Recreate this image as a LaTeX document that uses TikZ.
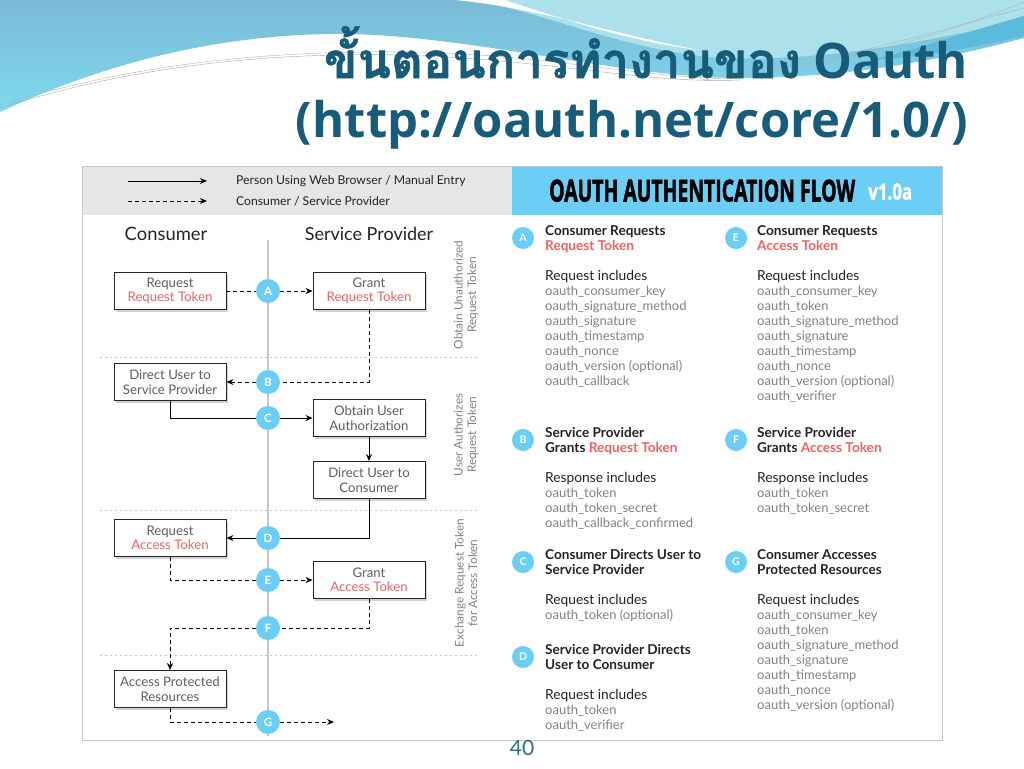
\documentclass[tikz,border=0pt]{standalone}
\usepackage{fontspec}
\usepackage{xcolor}
\usepackage{graphicx}
\usetikzlibrary{shapes,arrows.meta,positioning,calc,shadows}
\setmainfont{Lato}
\newfontfamily\thaifont[Script=Thai, BoldFeatures={FakeBold=1.2}]{Loma}
\newfontfamily\headfont{Open Sans}
\newfontfamily\bannerfont[BoldFeatures={FakeBold=2}]{Open Sans}

\definecolor{titleblue}{RGB}{24,92,122}
\definecolor{stepblue}{RGB}{108,206,245}
\definecolor{tokenred}{RGB}{240,98,98}
\definecolor{legendgray}{RGB}{230,230,230}
\definecolor{panelgray}{RGB}{200,200,200}
\definecolor{itemgray}{RGB}{130,130,130}
\definecolor{boxgray}{RGB}{95,95,95}
\definecolor{darktext}{RGB}{35,35,35}
\definecolor{bgtop}{RGB}{122,186,214}
\definecolor{bgbottom}{RGB}{126,218,236}
\definecolor{bglight}{RGB}{172,224,234}
\definecolor{bgband}{RGB}{92,186,218}
\definecolor{pagenum}{RGB}{40,112,130}

\newcommand{\infohead}[1]{\textcolor{darktext}{\bfseries\fontsize{13.6}{15}\selectfont #1}}
\newcommand{\infored}[1]{\textcolor{tokenred}{\bfseries\fontsize{13.6}{15}\selectfont #1}}
\newcommand{\infosub}[1]{\textcolor{darktext}{\fontsize{13.8}{15}\selectfont #1}}

\begin{document}
\begin{tikzpicture}[
    x=1pt, y=-1pt,
    stepbox/.style={rectangle, draw=black!85, fill=white, line width=0.9pt, align=center, minimum height=37pt, minimum width=112pt, inner sep=1pt, text=boxgray, font=\fontsize{13.2}{14.5}\selectfont, drop shadow={shadow xshift=1.5pt, shadow yshift=-2pt, opacity=0.35}},
    stepdot/.style={circle, fill=stepblue, text=white, inner sep=0pt, minimum size=24pt, font=\fontsize{11.5}{11.5}\selectfont\bfseries},
    infodot/.style={circle, fill=stepblue, text=white, inner sep=0pt, minimum size=22pt, font=\fontsize{10.5}{10.5}\selectfont\bfseries},
    infotext/.style={anchor=north west, inner sep=0pt, align=left, text=itemgray, font=\fontsize{13}{15}\selectfont},
    phase/.style={rotate=90, align=center, text=itemgray, font=\fontsize{11.8}{13.5}\selectfont},
    userflow/.style={draw=black, line width=1pt},
    appflow/.style={draw=black, line width=1pt, dash pattern=on 4pt off 3pt},
    tip/.style={-{Stealth[length=7pt, width=6pt]}}
]
    \useasboundingbox (0,0) rectangle (1024,768);

    % slide background
    \fill[white] (0,0) rectangle (1024,768);
    \shade[top color=bgtop, bottom color=bgbottom] (0,0) -- (1024,0) -- (1024,38)
        .. controls (960,55) and (860,78) .. (740,78)
        .. controls (620,78) and (460,32) .. (330,34)
        .. controls (200,36) and (90,70) .. (0,112) -- cycle;
    \fill[bglight] (470,0) -- (1024,0) -- (1024,20) .. controls (930,40) and (830,62) .. (720,58)
        .. controls (620,50) and (540,10) .. (470,0);
    \fill[white] (455,0) .. controls (540,8) and (620,36) .. (700,50)
        .. controls (630,42) and (560,18) .. (505,0) -- cycle;
    \fill[bgband] (1024,16) .. controls (960,34) and (920,48) .. (872,60)
        .. controls (930,56) and (980,46) .. (1024,36) -- cycle;
    \draw[gray!70, line width=0.4pt] (0,108) .. controls (120,70) and (250,52) .. (400,55) .. controls (560,60) and (640,84) .. (740,80);
    \draw[gray!60, line width=0.4pt] (0,105) .. controls (130,66) and (250,50) .. (420,52) .. controls (560,56) and (650,80) .. (740,78);
    \draw[gray!60, line width=0.4pt] (700,80) .. controls (820,70) and (930,40) .. (1024,2);
    \draw[gray!60, line width=0.4pt] (720,76) .. controls (830,64) and (940,30) .. (1024,8);

    % title
    \node[anchor=base east, inner sep=0pt, text=titleblue, font=\headfont\bfseries\fontsize{49}{58}\selectfont] (title1) at (968,78) {{\thaifont\bfseries ขั้นตอนการทำงานของ} Oauth};
    \node[anchor=base east, inner sep=0pt, text=titleblue, font=\headfont\bfseries\fontsize{49}{58}\selectfont] (title2) at (968,137) {(http://oauth.net/core/1.0/)};

    % panel
    \fill[white] (82,166) rectangle (942,740);
    \fill[legendgray] (82,166) rectangle (512,215);
    \fill[stepblue] (512,166) rectangle (942,215);
    \draw[panelgray, line width=1pt] (82,166) rectangle (942,740);
    \node[anchor=south west, inner sep=0pt] (flowtitle) at (549,202) {\resizebox{306pt}{22pt}{\bannerfont\bfseries OAUTH AUTHENTICATION FLOW}};
    \node[anchor=south west, inner sep=0pt, text=white] (version) at (868,200) {\resizebox{44pt}{16pt}{\bannerfont\bfseries v1.0a}};

    % legend
    \coordinate (legA1) at (128,181);
    \coordinate (legA2) at (207,181);
    \coordinate (legB1) at (128,201);
    \coordinate (legB2) at (207,201);
    \draw[userflow, tip] (legA1) -- (legA2);
    \draw[appflow, tip] (legB1) -- (legB2);
    \node[anchor=west, inner sep=0pt, text=darktext, font=\fontsize{12.2}{14}\selectfont] (legtext1) at (236,181) {Person Using Web Browser / Manual Entry};
    \node[anchor=west, inner sep=0pt, text=darktext, font=\fontsize{12.2}{14}\selectfont] (legtext2) at (236,201) {Consumer / Service Provider};

    % columns
    \node[text=darktext, font=\fontsize{18.4}{21}\selectfont] (consumer) at (166,234) {Consumer};
    \node[text=darktext, font=\fontsize{18}{21}\selectfont] (provider) at (369,234) {Service Provider};
    \draw[panelgray, line width=1.5pt] (268,240) -- (268,736);
    \foreach \yy in {357,510,655}
        \draw[panelgray, line width=0.8pt, dash pattern=on 2pt off 3pt] (100,\yy) -- (478,\yy);

    \node[phase] (phase1) at (466,295) {Obtain Unauthorized\\Request Token};
    \node[phase] (phase2) at (466,435) {User Authorizes\\Request Token};
    \node[phase] (phase3) at (466,583) {Exchange Request Token\\for Access Token};

    % boxes
    \node[stepbox] (reqRT) at (170,291) {Request\\\textcolor{tokenred}{Request Token}};
    \node[stepbox] (grantRT) at (369,291) {Grant\\\textcolor{tokenred}{Request Token}};
    \node[stepbox] (directSP) at (170,382) {Direct User to\\Service Provider};
    \node[stepbox] (obtainAuth) at (369,418) {Obtain User\\Authorization};
    \node[stepbox] (directC) at (369,480) {Direct User to\\Consumer};
    \node[stepbox] (reqAT) at (170,538) {Request\\\textcolor{tokenred}{Access Token}};
    \node[stepbox] (grantAT) at (369,580) {Grant\\\textcolor{tokenred}{Access Token}};
    \node[stepbox] (accessPR) at (170,689) {Access Protected\\Resources};

    % steps on the middle line
    \node[stepdot] (stepA) at (268,291) {A};
    \node[stepdot] (stepB) at (268,382) {B};
    \node[stepdot] (stepC) at (268,418) {C};
    \node[stepdot] (stepD) at (268,538) {D};
    \node[stepdot] (stepE) at (268,580) {E};
    \node[stepdot] (stepF) at (268,628) {F};
    \node[stepdot] (stepG) at (268,722) {G};
    \coordinate (gEnd) at (334,722);

    \draw[appflow] (reqRT) -- (stepA);
    \draw[appflow, tip] (stepA) -- (grantRT);
    \draw[appflow] (grantRT) |- (stepB);
    \draw[appflow, tip] (stepB) -- (directSP);
    \draw[userflow] (directSP) |- (stepC);
    \draw[userflow, tip] (stepC) -- (obtainAuth);
    \draw[userflow, tip] (obtainAuth) -- (directC);
    \draw[userflow] (directC) |- (stepD);
    \draw[userflow, tip] (stepD) -- (reqAT);
    \draw[appflow] (reqAT) |- (stepE);
    \draw[appflow, tip] (stepE) -- (grantAT);
    \draw[appflow] (grantAT) |- (stepF);
    \draw[appflow, tip] (stepF) -| (accessPR);
    \draw[appflow] (accessPR) |- (stepG);
    \draw[appflow, tip] (stepG) -- (gEnd);

    % step details
    \node[infodot] (infoA) at (523,238) {A};
    \node[infodot] (infoB) at (523,440) {B};
    \node[infodot] (infoC) at (523,562) {C};
    \node[infodot] (infoD) at (523,657) {D};
    \node[infodot] (infoE) at (736,238) {E};
    \node[infodot] (infoF) at (736,440) {F};
    \node[infodot] (infoG) at (736,562) {G};

    \node[infotext] (textA) at (545,225) {\infohead{Consumer Requests}\\\infored{Request Token}\\[15pt]
        \infosub{Request includes}\\
        oauth\_consumer\_key\\oauth\_signature\_method\\oauth\_signature\\oauth\_timestamp\\oauth\_nonce\\oauth\_version (optional)\\oauth\_callback};
    \node[infotext] (textE) at (757,225) {\infohead{Consumer Requests}\\\infored{Access Token}\\[15pt]
        \infosub{Request includes}\\
        oauth\_consumer\_key\\oauth\_token\\oauth\_signature\_method\\oauth\_signature\\oauth\_timestamp\\oauth\_nonce\\oauth\_version (optional)\\oauth\_verifier};
    \node[infotext] (textB) at (545,427) {\infohead{Service Provider}\\\infohead{Grants} \infored{Request Token}\\[15pt]
        \infosub{Response includes}\\
        oauth\_token\\oauth\_token\_secret\\oauth\_callback\_confirmed};
    \node[infotext] (textF) at (757,427) {\infohead{Service Provider}\\\infohead{Grants} \infored{Access Token}\\[15pt]
        \infosub{Response includes}\\
        oauth\_token\\oauth\_token\_secret};
    \node[infotext] (textC) at (545,549) {\infohead{Consumer Directs User to}\\\infohead{Service Provider}\\[15pt]
        \infosub{Request includes}\\
        oauth\_token (optional)};
    \node[infotext] (textG) at (757,549) {\infohead{Consumer Accesses}\\\infohead{Protected Resources}\\[15pt]
        \infosub{Request includes}\\
        oauth\_consumer\_key\\oauth\_token\\oauth\_signature\_method\\oauth\_signature\\oauth\_timestamp\\oauth\_nonce\\oauth\_version (optional)};
    \node[infotext] (textD) at (545,644) {\infohead{Service Provider Directs}\\\infohead{User to Consumer}\\[15pt]
        \infosub{Request includes}\\
        oauth\_token\\oauth\_verifier};

    % page number
    \node[text=pagenum, font=\fontsize{21}{24}\selectfont] (page) at (522,748) {40};
\end{tikzpicture}
\end{document}
